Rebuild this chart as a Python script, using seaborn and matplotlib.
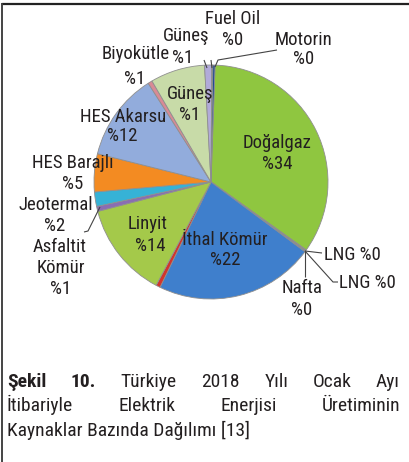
import matplotlib
matplotlib.use("Agg")
import matplotlib.pyplot as plt
import seaborn as sns

sns.set_theme(style="white")
plt.rcParams["font.family"] = ["Roboto Condensed", "DejaVu Sans"]

# ---- data (clockwise from 12 o'clock) ----
sources = ["Doğalgaz", "LNG", "LNG", "Nafta", "İthal Kömür", "Taş Kömürü", "Linyit",
           "Asfaltit Kömür", "Jeotermal", "HES Barajlı", "HES Akarsu", "Biyokütle",
           "Güneş", "Güneş", "Fuel Oil", "Motorin"]
shares = [34.6, 0.1, 0.1, 0.1, 22.2, 0.6, 13.3, 0.7, 2.0, 5.3, 12.2, 0.6, 7.6, 1.0, 0.15, 0.3]
pct_text = ["%34", "%0", "%0", "%0", "%22", "", "%14", "%1", "%2", "%5", "%12", "%1",
            "%1", "%1", "%0", "%0"]
colors = ["#8fc640", "#9a9aa0", "#7d7d85", "#6f6f78", "#3f7fcc", "#d2352c", "#a4c94a",
          "#8a6db3", "#36b2d6", "#f38b22", "#92acdc", "#d98a95", "#c8dba8", "#b1aad9",
          "#8c8c98", "#1f4a94"]

caption_lines = [
    [("Şekil", "bold"), ("10.", "bold"), ("Türkiye", "normal"), ("2018", "normal"),
     ("Yılı", "normal"), ("Ocak", "normal"), ("Ayı", "normal")],
    [("İtibariyle", "normal"), ("Elektrik", "normal"), ("Enerjisi", "normal"),
     ("Üretiminin", "normal")],
    [("Kaynaklar Bazında Dağılımı [13]", "normal")],
]

# ---- layout ----
W, H = 410, 462
CX, CY, R = 211, 182, 117  # pie centre / radius in pixels

fig = plt.figure(figsize=(W / 100, H / 100), dpi=100)
fig.patch.set_facecolor("white")
ax = fig.add_axes([0, 0, 1, 1])

def px(x, y):
    return ((x - CX) / R, (CY - y) / R)

ax.pie(shares, colors=colors, startangle=88, counterclock=False, radius=1,
       wedgeprops=dict(edgecolor="#8f8f8f", linewidth=0.6))
ax.set_xlim(-CX / R, (W - CX) / R)
ax.set_ylim((CY - H) / R, CY / R)
ax.set_aspect("auto")
ax.axis("off")

FS = 13.5
label_layout = {
    14: [("Fuel Oil", 233, 24), (None, 233, 45)],
    15: [("Motorin", 304, 45), (None, 304, 64)],
    13: [("Güneş", 186, 41), (None, 183, 63)],
    11: [("Biyokütle", 136, 59), (None, 135, 84)],
    12: [("Güneş", 190, 99), (None, 190, 120)],
    10: [("HES Akarsu", 123, 122), (None, 122, 141)],
    9: [("HES Barajlı", 73, 168), (None, 73, 189)],
    8: [("Jeotermal", 56, 210), (None, 55, 231)],
    7: [("Asfaltit", 60, 252), ("Kömür", 61, 273), (None, 61, 294)],
    6: [("Linyit", 148, 229), (None, 150, 251)],
    4: [("İthal Kömür", 225, 245), (None, 225, 265)],
    0: [("Doğalgaz", 277, 148), (None, 277, 169)],
    1: [("LNG " + pct_text[1], 352, 260)],
    2: [("LNG " + pct_text[2], 367, 288)],
    3: [("Nafta", 302, 293), (None, 302, 315)],
}
for idx, lines in label_layout.items():
    for txt, x, y in lines:
        s = pct_text[idx] if txt is None else txt
        ax.text(*px(x, y), s, ha="center", va="baseline", fontsize=FS, color="#231f20")

leaders = [
    [(277, 50), (218, 60), (215, 67)],
    [(204, 60), (207, 68)],
    [(211, 60), (212, 68)],
    [(100, 207), (88, 231), (84, 232)],
    [(305, 251), (322, 253)],
    [(305, 251), (333, 282), (338, 282)],
    [(305, 251), (305, 277)],
]
for pts in leaders:
    xs, ys = zip(*[px(x, y) for x, y in pts])
    ax.plot(xs, ys, color="#444444", linewidth=0.8, solid_capstyle="butt")

# frame lines (top and left)
fig.add_artist(plt.Line2D([2 / W, 1], [1 - 3.5 / H, 1 - 3.5 / H], color="#222222", linewidth=1.6))
fig.add_artist(plt.Line2D([2.5 / W, 2.5 / W], [0, 1 - 3.5 / H], color="#444444", linewidth=1.4))

# caption, justified
CFS = 14
x0, x1 = 7, 400
baselines = [387, 411, 436]
fig.canvas.draw()
renderer = fig.canvas.get_renderer()
for li, (words, yb) in enumerate(zip(caption_lines, baselines)):
    texts = [fig.text(0, 1 - yb / H, w, fontsize=CFS, fontweight=wt, ha="left",
                      va="baseline", color="#231f20") for w, wt in words]
    widths = [t.get_window_extent(renderer).width for t in texts]
    if len(texts) > 1 and li < len(caption_lines) - 1:
        gap = ((x1 - x0) - sum(widths)) / (len(texts) - 1)
    else:
        gap = 0
    x = x0
    for t, w in zip(texts, widths):
        t.set_x(x / W)
        x += w + gap

fig.savefig("out.png", dpi=100, facecolor="white")
